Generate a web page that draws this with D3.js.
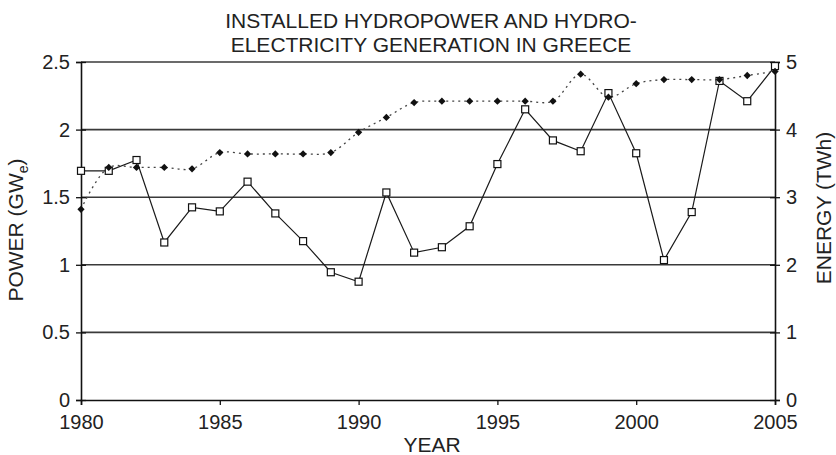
<!DOCTYPE html>
<html lang="en">
<head>
<meta charset="utf-8">
<title>Hydropower in Greece</title>
<script src="https://cdnjs.cloudflare.com/ajax/libs/d3/7.8.5/d3.min.js"></script>
<style>
body { margin: 0; background: #fff; }
svg text { font-family: "Liberation Sans", Arial, sans-serif; fill: #222; }
</style>
</head>
<body>
<div id="chart"></div>
<script>

// values
var years = d3.range(1980, 2006)
var powerGW = [1.41, 1.72, 1.72, 1.72, 1.71, 1.83, 1.82, 1.82, 1.82, 1.83,
               1.98, 2.09, 2.20, 2.21, 2.21, 2.21, 2.21, 2.21, 2.41, 2.24,
               2.34, 2.37, 2.37, 2.37, 2.40, 2.43]
var energyTWh = [3.39, 3.39, 3.55, 2.33, 2.85, 2.79, 3.23, 2.76, 2.35, 1.89,
                 1.75, 3.07, 2.18, 2.26, 2.57, 3.49, 4.30, 3.84, 3.68, 4.54,
                 3.65, 2.07, 2.78, 4.72, 4.42, 4.94]
var xTicks = [1980, 1985, 1990, 1995, 2000, 2005]
var leftTicks = [0, 0.5, 1, 1.5, 2, 2.5]
var rightTicks = [0, 1, 2, 3, 4, 5]

var width = 836, height = 455
var margin = { top: 62, right: 61, bottom: 55, left: 81 }
var plotW = width - margin.left - margin.right,
    plotH = height - margin.top - margin.bottom
var tickFont = 20, titleFont = 21

var svg = d3.select('#chart').append('svg')
    .attr('width', width)
    .attr('height', height)

var g = svg.append('g')
    .attr('transform', 'translate(' + margin.left + ',' + margin.top + ')')

var x = d3.scaleLinear().domain([1980, 2005]).range([0, plotW])
var yLeft = d3.scaleLinear().domain([0, 2.5]).range([plotH, 0])
var yRight = d3.scaleLinear().domain([0, 5]).range([plotH, 0])

// grid lines
g.selectAll('.grid')
    .data(leftTicks.slice(1))
    .enter().append('line')
        .attr('x1', 0)
        .attr('x2', plotW)
        .attr('y1', function(d) { return yLeft(d) })
        .attr('y2', function(d) { return yLeft(d) })
        .attr('stroke', '#3a3a3a')
        .attr('stroke-width', 1.6)

// axes
var xAxis = g.append('g')
    .attr('transform', 'translate(0,' + plotH + ')')
    .call(d3.axisBottom(x).tickValues(xTicks).tickFormat(d3.format('d')).tickSize(5).tickPadding(10))

var leftAxis = g.append('g')
    .call(d3.axisLeft(yLeft).tickValues(leftTicks).tickFormat(function(d) { return d }).tickSize(5).tickPadding(6))

var rightAxis = g.append('g')
    .attr('transform', 'translate(' + plotW + ',0)')
    .call(d3.axisRight(yRight).tickValues(rightTicks).tickFormat(function(d) { return d }).tickSize(5).tickPadding(6))

;[xAxis, leftAxis, rightAxis].forEach(function(a) {
    a.select('.domain').attr('stroke', '#111').attr('stroke-width', 1.6)
    a.selectAll('.tick line').attr('stroke', '#111').attr('stroke-width', 1.3)
    a.selectAll('.tick text').attr('font-size', tickFont).attr('fill', '#222')
        .style('font-family', '"Liberation Sans", Arial, sans-serif')
})
// ticks of the y axes cross the axis line
leftAxis.selectAll('.tick line').attr('x1', 5)
rightAxis.selectAll('.tick line').attr('x1', -5)

// energy: solid line with open squares
var energyLine = d3.line()
    .x(function(d, i) { return x(years[i]) })
    .y(function(d) { return yRight(d) })

g.append('path')
    .datum(energyTWh)
    .attr('fill', 'none')
    .attr('stroke', '#1a1a1a')
    .attr('stroke-width', 1.2)
    .attr('d', energyLine)

// power: smoothed dotted line with filled diamonds
var powerLine = d3.line()
    .curve(d3.curveCatmullRom.alpha(0.5))
    .x(function(d, i) { return x(years[i]) })
    .y(function(d) { return yLeft(d) })

g.append('path')
    .datum(powerGW)
    .attr('fill', 'none')
    .attr('stroke', '#444')
    .attr('stroke-width', 1.3)
    .attr('stroke-dasharray', '2,4')
    .attr('d', powerLine)

g.selectAll('.sq')
    .data(energyTWh)
    .enter().append('rect')
        .attr('x', function(d, i) { return x(years[i]) - 3.5 })
        .attr('y', function(d) { return yRight(d) - 3.5 })
        .attr('width', 7)
        .attr('height', 7)
        .attr('fill', '#fff')
        .attr('stroke', '#111')
        .attr('stroke-width', 1.2)

g.selectAll('.dia')
    .data(powerGW)
    .enter().append('path')
        .attr('d', d3.symbol().type(d3.symbolDiamond2).size(34))
        .attr('transform', function(d, i) { return 'translate(' + x(years[i]) + ',' + yLeft(d) + ')' })
        .attr('fill', '#111')

// titles
svg.append('text')
    .attr('x', 431).attr('y', 28)
    .attr('text-anchor', 'middle')
    .attr('font-size', titleFont)
    .text('INSTALLED HYDROPOWER AND HYDRO-')
svg.append('text')
    .attr('x', 431).attr('y', 52)
    .attr('text-anchor', 'middle')
    .attr('font-size', titleFont)
    .text('ELECTRICITY GENERATION IN GREECE')

svg.append('text')
    .attr('x', 432).attr('y', 452)
    .attr('text-anchor', 'middle')
    .attr('font-size', titleFont)
    .text('YEAR')

var powerTitle = svg.append('text')
    .attr('transform', 'translate(23,230) rotate(-90)')
    .attr('text-anchor', 'middle')
    .attr('font-size', titleFont)
powerTitle.append('tspan').text('POWER (GW')
powerTitle.append('tspan').attr('font-size', 14).attr('dy', 5).text('e')
powerTitle.append('tspan').attr('dy', -5).text(')')

svg.append('text')
    .attr('transform', 'translate(831,208) rotate(-90)')
    .attr('text-anchor', 'middle')
    .attr('font-size', titleFont)
    .text('ENERGY (TWh)')

</script>
</body>
</html>
